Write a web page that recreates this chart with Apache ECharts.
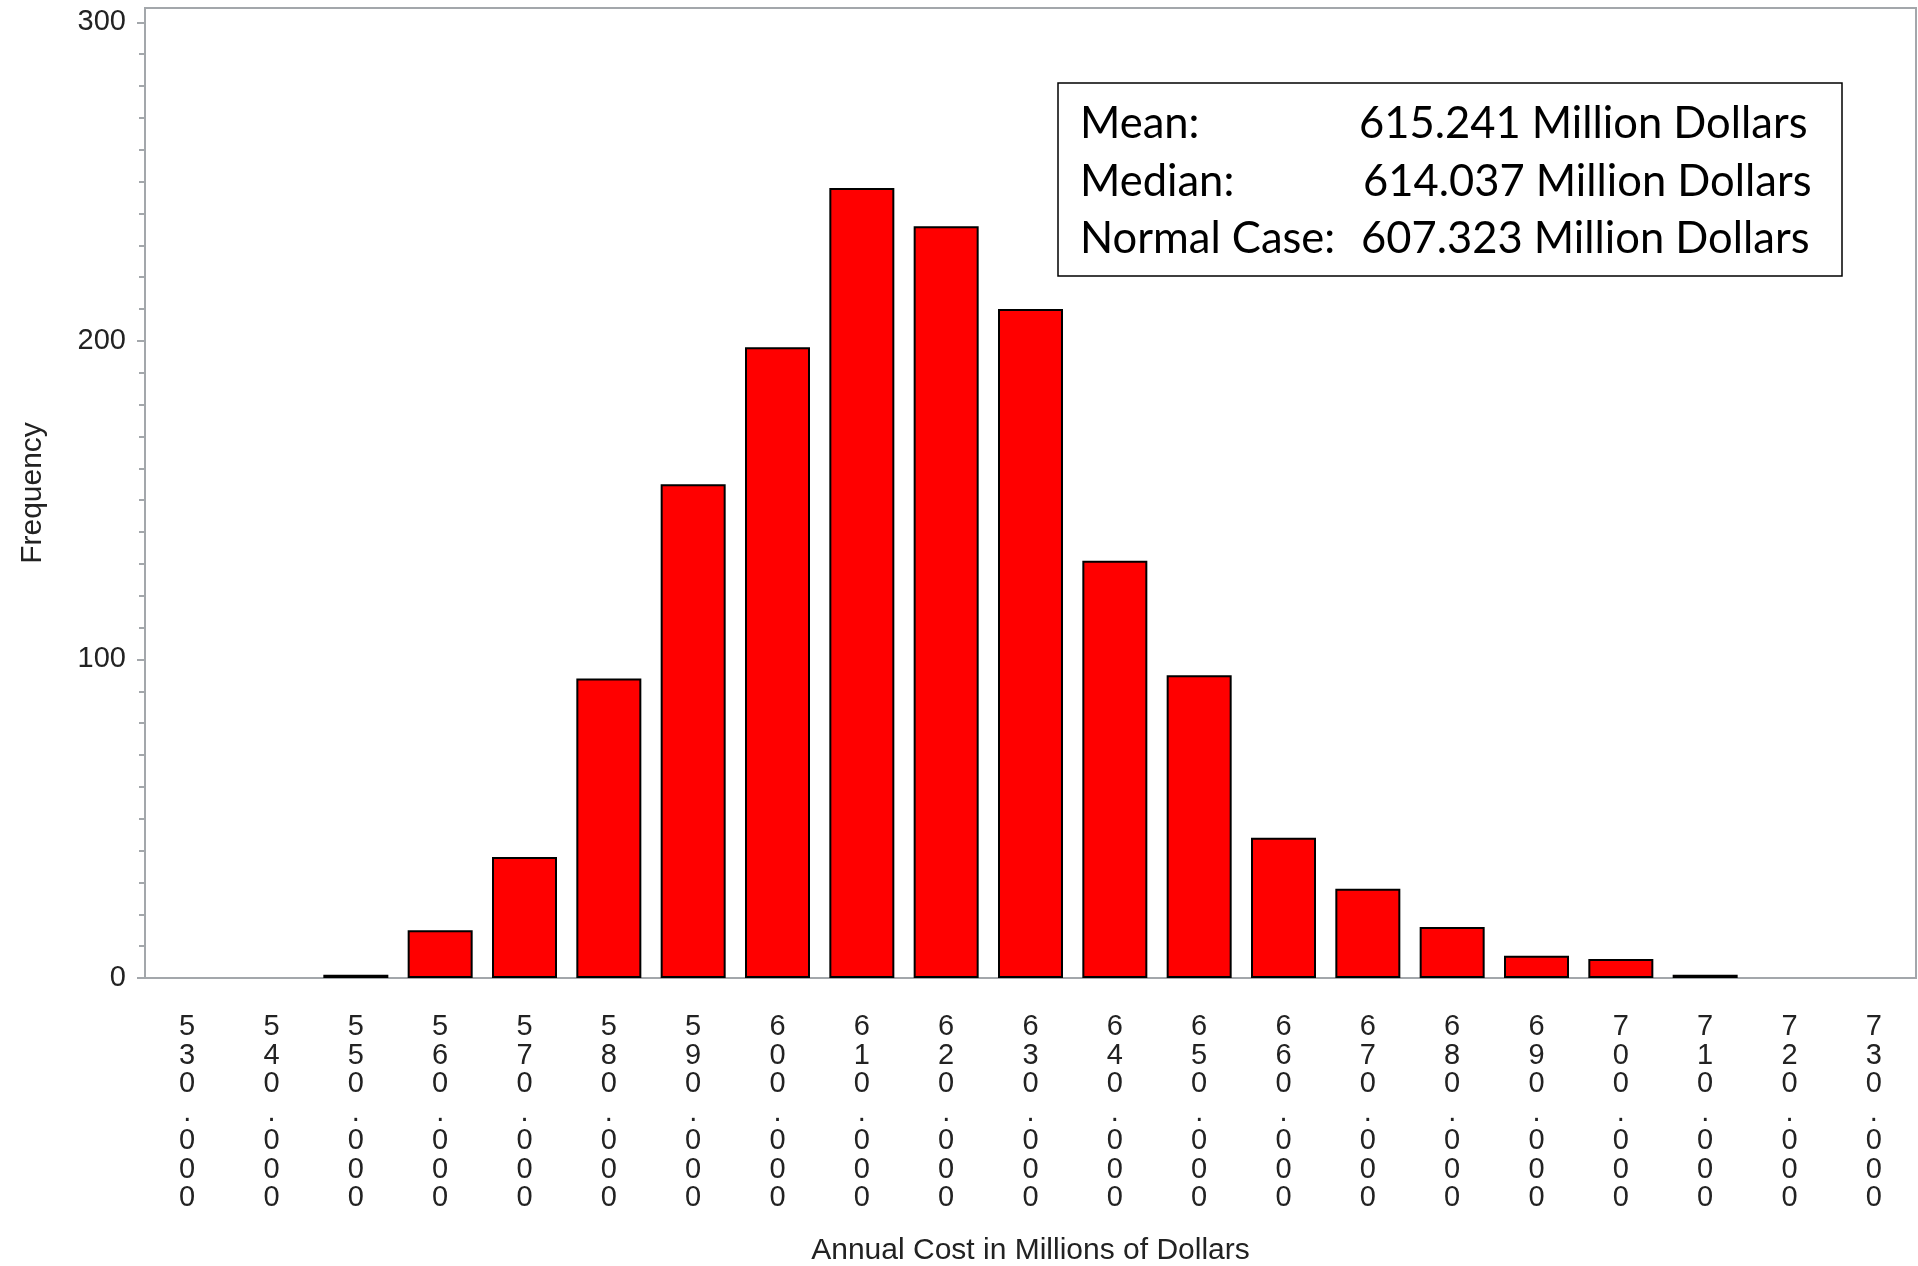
<!DOCTYPE html>
<html lang="en">
<head>
  <meta charset="UTF-8" />
  <title>Annual Cost Histogram</title>
  <script src="https://cdn.jsdelivr.net/npm/echarts@6/dist/echarts.min.js"></script>
  <style>
    body {
      margin: 0;
      background: #fff;
    }
    #chart {
      width: 1918px;
      height: 1266px;
    }
  </style>
</head>
<body>
  <div id="chart"></div>

  <script>
    // bin labels (millions of dollars) and counts
    const categories = ['530.000', '540.000', '550.000', '560.000', '570.000', '580.000', '590.000',
                        '600.000', '610.000', '620.000', '630.000', '640.000', '650.000', '660.000',
                        '670.000', '680.000', '690.000', '700.000', '710.000', '720.000', '730.000'];
    const frequency = [0, 0, 1, 15, 38, 94, 155, 198, 248, 236, 210, 131, 95, 44, 28, 16, 7, 6, 1, 0, 0];
    const yTicks = [0, 100, 200, 300];
    const statLabels = ['Mean:', 'Median:', 'Normal Case:'];
    const statValues = ['615.241 Million Dollars', '614.037 Million Dollars', '607.323 Million Dollars'];

    const axisGray = '#a3a7ab';
    const sasFont = '"Liberation Sans", Arial, sans-serif';

    // small ticks every 10 between the labelled ones
    const minorTicks = [];
    for (let v = 10; v < 300; v += 10) {
      if (v % 100 !== 0) minorTicks.push(v);
    }

    const chart = echarts.init(document.getElementById('chart'));

    const statText = [];
    const valueX = [1359, 1363, 1361];
    const rowY = [129, 187, 244];
    statLabels.forEach((lab, i) => {
      statText.push({
        type: 'text', left: 1080, top: rowY[i] - 27,
        style: { text: lab, font: '43.5px Lato, sans-serif', fill: '#000' }
      });
      statText.push({
        type: 'text', left: valueX[i], top: rowY[i] - 27,
        style: { text: statValues[i], font: '43.5px Lato, sans-serif', fill: '#000' }
      });
    });

    chart.setOption({
      animation: false,
      grid: {
        left: 145, right: 2, top: 8, bottom: 288,
        outerBoundsMode: 'none',
        show: true, borderColor: axisGray, borderWidth: 2
      },
      xAxis: {
        type: 'category',
        data: categories,
        name: 'Annual Cost in Millions of Dollars',
        nameLocation: 'middle',
        nameGap: 258,
        nameTextStyle: { fontFamily: sasFont, fontSize: 30, color: '#222' },
        axisLine: { lineStyle: { color: axisGray, width: 2 } },
        axisTick: { show: false },
        axisLabel: {
          interval: 0,
          margin: 35,
          fontFamily: sasFont,
          fontSize: 29,
          lineHeight: 28.5,
          color: '#222',
          formatter: (v) => v.split('').join('\n')
        }
      },
      yAxis: [{
        type: 'value',
        min: 0,
        max: 304.5,
        name: 'Frequency',
        nameLocation: 'middle',
        nameGap: 97,
        nameTextStyle: { fontFamily: sasFont, fontSize: 30, color: '#222' },
        splitLine: { show: false },
        axisLine: { show: true, lineStyle: { color: axisGray, width: 2 } },
        axisTick: { show: true, customValues: yTicks, length: 8, lineStyle: { color: axisGray, width: 2 } },
        axisLabel: {
          customValues: yTicks,
          margin: 19,
          fontFamily: sasFont,
          fontSize: 29,
          color: '#222'
        }
      }, {
        type: 'value',
        position: 'left',
        min: 0,
        max: 304.5,
        splitLine: { show: false },
        axisLine: { show: false },
        axisTick: { show: true, customValues: minorTicks, length: 6, lineStyle: { color: axisGray, width: 2 } },
        axisLabel: { show: false }
      }],
      series: [{
        type: 'bar',
        yAxisIndex: 0,
        barWidth: 65,
        data: frequency.map(v => v === 0 ? { value: v, itemStyle: { borderWidth: 0 } } : v),
        itemStyle: { color: '#ff0000', borderColor: '#000', borderWidth: 2 }
      }],
      graphic: [{
        type: 'rect',
        shape: { x: 1058, y: 83, width: 784, height: 193 },
        style: { fill: '#fff', stroke: '#000', lineWidth: 1.5 },
        z: 100
      }].concat(statText.map(t => Object.assign(t, { z: 101 })))
    });
  </script>
</body>
</html>
